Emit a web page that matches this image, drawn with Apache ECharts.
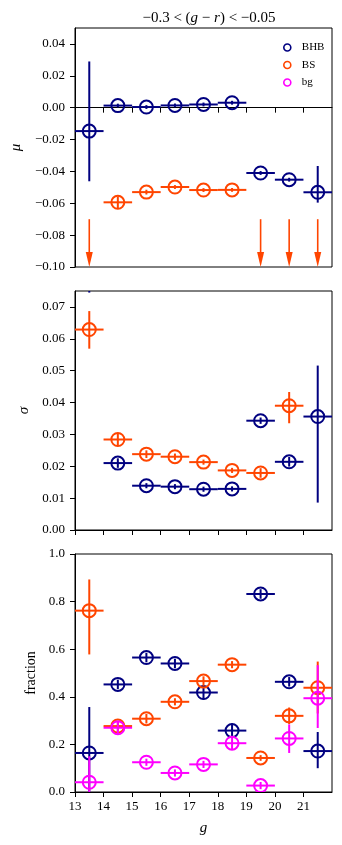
<!DOCTYPE html>
<html>
<head>
<meta charset="utf-8">
<script src="https://cdn.jsdelivr.net/npm/echarts@6/dist/echarts.min.js"></script>
<style>
  html, body { margin: 0; padding: 0; background: #fff; }
  #chart { width: 342px; height: 845px; }
</style>
</head>
<body>
<div id="chart"></div>
<script>
// magnitude bins (g), bin half width
var gBins = [13.5, 14.5, 15.5, 16.5, 17.5, 18.5, 19.5, 20.5, 21.5];
var binHalf = 0.5;
var gTicks = [13, 14, 15, 16, 17, 18, 19, 20, 21];

// mu panel
var muBHB   = [-0.0147, 0.0013, 0.0004, 0.0014, 0.0020, 0.0031, -0.0410, -0.0452, -0.0531];
var muBHBLo = [-0.0462, 0.0001, -0.0008, 0.0002, 0.0008, 0.0019, -0.0422, -0.0464, -0.0596];
var muBHBHi = [0.0290, 0.0025, 0.0016, 0.0026, 0.0032, 0.0043, -0.0398, -0.0440, -0.0366];
var muBS    = [null, -0.0594, -0.0530, -0.0498, -0.0517, -0.0516, null, null, null];
var muBSLo  = [null, -0.0630, -0.0545, -0.0510, -0.0529, -0.0528, null, null, null];
var muBSHi  = [null, -0.0558, -0.0515, -0.0486, -0.0505, -0.0504, null, null, null];
var muBSLimitG = [13.5, 19.5, 20.5, 21.5];
var muBSLimit  = [-0.07, -0.07, -0.07, -0.07];
var muTicks = [-0.10, -0.08, -0.06, -0.04, -0.02, 0.00, 0.02, 0.04];

// sigma panel
var sigBHB   = [0.0900, 0.0210, 0.0139, 0.0136, 0.0128, 0.0129, 0.0343, 0.0214, 0.0356];
var sigBHBLo = [0.0745, 0.0195, 0.0131, 0.0128, 0.0120, 0.0121, 0.0333, 0.0199, 0.0086];
var sigBHBHi = [0.1100, 0.0225, 0.0147, 0.0144, 0.0136, 0.0137, 0.0353, 0.0229, 0.0516];
var sigBS    = [0.0629, 0.0284, 0.0238, 0.0230, 0.0213, 0.0187, 0.0179, 0.0390, null];
var sigBSLo  = [0.0569, 0.0266, 0.0226, 0.0220, 0.0205, 0.0179, 0.0164, 0.0335, null];
var sigBSHi  = [0.0687, 0.0302, 0.0250, 0.0240, 0.0221, 0.0195, 0.0194, 0.0433, null];
var sigTicks = [0.00, 0.01, 0.02, 0.03, 0.04, 0.05, 0.06, 0.07];

// fraction panel
var frBHB   = [0.164, 0.452, 0.565, 0.540, 0.418, 0.258, 0.832, 0.463, 0.172];
var frBHBLo = [-0.030, 0.432, 0.545, 0.520, 0.388, 0.228, 0.812, 0.443, 0.100];
var frBHBHi = [0.357, 0.472, 0.585, 0.560, 0.448, 0.288, 0.852, 0.483, 0.252];
var frBS    = [0.762, 0.277, 0.308, 0.379, 0.466, 0.535, 0.143, 0.320, 0.438];
var frBSLo  = [0.578, 0.257, 0.288, 0.364, 0.446, 0.520, 0.131, 0.285, 0.330];
var frBSHi  = [0.893, 0.297, 0.328, 0.394, 0.486, 0.550, 0.155, 0.355, 0.548];
var frBg    = [0.041, 0.270, 0.125, 0.080, 0.116, 0.205, 0.027, 0.225, 0.394];
var frBgLo  = [-0.070, 0.245, 0.110, 0.065, 0.101, 0.180, 0.012, 0.164, 0.269];
var frBgHi  = [0.150, 0.295, 0.140, 0.095, 0.131, 0.230, 0.042, 0.284, 0.533];
var frTicks = [0.0, 0.2, 0.4, 0.6, 0.8, 1.0];

var cBHB = '#000080', cBS = '#ff4500', cBg = '#ff00ff';
var serif = '"Liberation Serif", "DejaVu Serif", serif';

function rows(vals, lo, hi) {
  var out = [];
  for (var i = 0; i < gBins.length; i++) {
    if (vals[i] == null) continue;
    out.push([gBins[i], vals[i], lo[i], hi[i]]);
  }
  return out;
}

function errRender(color) {
  return function (params, api) {
    var x = api.value(0), y = api.value(1);
    var c = api.coord([x, y]);
    var l = api.coord([x - binHalf, y]);
    var r = api.coord([x + binHalf, y]);
    var b = api.coord([x, api.value(2)]);
    var t = api.coord([x, api.value(3)]);
    var st = { stroke: color, lineWidth: 2, fill: null };
    return {
      type: 'group',
      children: [
        { type: 'line', shape: { x1: l[0], y1: c[1], x2: r[0], y2: c[1] }, style: st },
        { type: 'line', shape: { x1: c[0], y1: b[1], x2: c[0], y2: t[1] }, style: st },
        { type: 'circle', shape: { cx: c[0], cy: c[1], r: 6.5 }, style: { stroke: color, lineWidth: 2, fill: 'none' } }
      ]
    };
  };
}

function arrowRender(params, api) {
  var x = api.value(0);
  var top = api.coord([x, api.value(1)]);
  var tip = api.coord([x, muTicks[0]]);
  return {
    type: 'group',
    children: [
      { type: 'line', shape: { x1: top[0], y1: top[1], x2: tip[0], y2: tip[1] - 8 }, style: { stroke: cBS, lineWidth: 1.6 } },
      { type: 'polygon', shape: { points: [[tip[0] - 3.5, tip[1] - 15], [tip[0] + 3.5, tip[1] - 15], [tip[0], tip[1]]] }, style: { fill: cBS } }
    ]
  };
}

function errSeries(name, idx, color, data) {
  return {
    name: name, type: 'custom', xAxisIndex: idx, yAxisIndex: idx,
    clip: true, itemStyle: { color: color },
    renderItem: errRender(color), data: data
  };
}

function fmtMinus(v, dec) {
  var s = Math.abs(v).toFixed(dec);
  return (v < -1e-9 ? '\u2212' : '') + s;
}

var labelStyle = { color: '#000', fontFamily: serif, fontSize: 13 };

function xAx(idx, showLabels) {
  var ax = {
    type: 'value', gridIndex: idx, min: 13, max: 22,
    axisLine: { show: true, lineStyle: { color: '#000', width: 1 } },
    axisTick: { show: true, length: 5, inside: false, lineStyle: { color: '#000' }, customValues: gTicks },
    axisLabel: { show: showLabels, margin: 8, customValues: gTicks, formatter: function (v) { return String(v); } },
    splitLine: { show: false }
  };
  Object.assign(ax.axisLabel, labelStyle);
  if (showLabels) {
    ax.name = 'g';
    ax.nameLocation = 'middle';
    ax.nameGap = 29;
    ax.nameTextStyle = { fontFamily: serif, fontSize: 15, fontStyle: 'italic', color: '#000' };
  }
  return ax;
}

function yAx(idx, min, max, ticks, dec, name, gap, italic) {
  var ax = {
    type: 'value', gridIndex: idx, min: min, max: max,
    axisLine: { show: true, lineStyle: { color: '#000', width: 1 } },
    axisTick: { show: true, length: 5, lineStyle: { color: '#000' }, customValues: ticks },
    axisLabel: { margin: 10, customValues: ticks, formatter: function (v) { return fmtMinus(v, dec); } },
    splitLine: { show: false },
    name: name, nameLocation: 'middle', nameGap: gap,
    nameTextStyle: { fontFamily: serif, fontSize: italic ? 15 : 14, fontStyle: italic ? 'italic' : 'normal', color: '#000' }
  };
  Object.assign(ax.axisLabel, labelStyle);
  return ax;
}

var chart = echarts.init(document.getElementById('chart'), null, { renderer: 'canvas' });

var gridBox = { left: 75, right: 10, show: true, borderColor: '#000', borderWidth: 1, backgroundColor: '#fff' };

chart.setOption({
  animation: false,
  backgroundColor: '#fff',
  title: {
    text: '{n|\u22120.3 < (}{i|g}{n| \u2212 }{i|r}{n|) < \u22120.05}',
    left: 204, top: 6, textAlign: 'center',
    textStyle: {
      fontWeight: 'normal',
      rich: {
        n: { fontFamily: serif, fontSize: 15, fontWeight: 'normal', color: '#000' },
        i: { fontFamily: serif, fontSize: 15, fontWeight: 'normal', fontStyle: 'italic', color: '#000' }
      }
    }
  },
  legend: {
    orient: 'vertical', left: 278, top: 37,
    itemWidth: 7, itemHeight: 7, itemGap: 6.5,
    textStyle: { fontFamily: serif, fontSize: 11, color: '#000', padding: [0, 0, 0, 6] },
    data: [
      { name: 'BHB', icon: 'circle', itemStyle: { color: 'transparent', borderColor: cBHB, borderWidth: 1.6 } },
      { name: 'BS', icon: 'circle', itemStyle: { color: 'transparent', borderColor: cBS, borderWidth: 1.6 } },
      { name: 'bg', icon: 'circle', itemStyle: { color: 'transparent', borderColor: cBg, borderWidth: 1.6 } }
    ]
  },
  grid: [
    Object.assign({ top: 28, height: 239 }, gridBox),
    Object.assign({ top: 291, height: 239 }, gridBox),
    Object.assign({ top: 554, height: 238 }, gridBox)
  ],
  xAxis: [xAx(0, false), xAx(1, false), xAx(2, true)],
  yAxis: [
    yAx(0, -0.10, 0.05, muTicks, 2, '\u03bc', 47, true),
    yAx(1, 0, 0.075, sigTicks, 2, '\u03c3', 39, true),
    yAx(2, 0, 1.0, frTicks, 1, 'fraction', 35, false)
  ],
  series: [
    errSeries('BHB', 0, cBHB, rows(muBHB, muBHBLo, muBHBHi)),
    errSeries('BS', 0, cBS, rows(muBS, muBSLo, muBSHi)),
    {
      name: 'BS limit', type: 'custom', xAxisIndex: 0, yAxisIndex: 0, clip: true,
      renderItem: arrowRender,
      data: muBSLimitG.map(function (g, i) { return [g, muBSLimit[i]]; })
    },
    errSeries('BHB', 1, cBHB, rows(sigBHB, sigBHBLo, sigBHBHi)),
    errSeries('BS', 1, cBS, rows(sigBS, sigBSLo, sigBSHi)),
    errSeries('BHB', 2, cBHB, rows(frBHB, frBHBLo, frBHBHi)),
    errSeries('BS', 2, cBS, rows(frBS, frBSLo, frBSHi)),
    errSeries('bg', 2, cBg, rows(frBg, frBgLo, frBgHi))
  ]
});
</script>
</body>
</html>
